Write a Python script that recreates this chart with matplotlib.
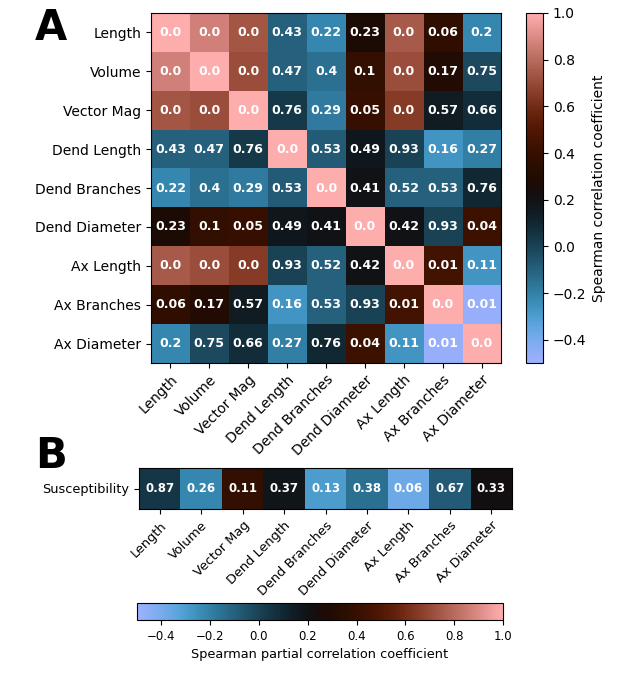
"""Spearman correlation heatmaps of morphology features and susceptibility."""

import matplotlib

matplotlib.use("Agg")
import matplotlib.pyplot as plt
import numpy as np

features = [
    "Length", "Volume", "Vector Mag", "Dend Length", "Dend Branches",
    "Dend Diameter", "Ax Length", "Ax Branches", "Ax Diameter",
]

# correlation coefficients (colour)
corr = np.array([
    [1.00, 0.87, 0.74, -0.10, -0.22, 0.27, 0.75, 0.37, -0.22],
    [0.87, 1.00, 0.71, -0.10, -0.15, 0.38, 0.71, 0.30, -0.02],
    [0.74, 0.71, 1.00, 0.03, -0.18, 0.40, 0.65, 0.15, 0.08],
    [-0.10, -0.10, 0.03, 1.00, -0.08, 0.17, 0.00, -0.27, -0.20],
    [-0.22, -0.15, -0.18, -0.08, 1.00, 0.20, -0.10, -0.10, 0.10],
    [0.27, 0.38, 0.40, 0.17, 0.20, 1.00, 0.20, 0.00, 0.42],
    [0.75, 0.71, 0.65, 0.00, -0.10, 0.20, 1.00, 0.45, -0.27],
    [0.37, 0.30, 0.15, -0.27, -0.10, 0.00, 0.45, 1.00, -0.48],
    [-0.22, -0.02, 0.08, -0.20, 0.10, 0.42, -0.27, -0.48, 1.00],
])

# p-values (annotation)
pvals = [
    ["0.0", "0.0", "0.0", "0.43", "0.22", "0.23", "0.0", "0.06", "0.2"],
    ["0.0", "0.0", "0.0", "0.47", "0.4", "0.1", "0.0", "0.17", "0.75"],
    ["0.0", "0.0", "0.0", "0.76", "0.29", "0.05", "0.0", "0.57", "0.66"],
    ["0.43", "0.47", "0.76", "0.0", "0.53", "0.49", "0.93", "0.16", "0.27"],
    ["0.22", "0.4", "0.29", "0.53", "0.0", "0.41", "0.52", "0.53", "0.76"],
    ["0.23", "0.1", "0.05", "0.49", "0.41", "0.0", "0.42", "0.93", "0.04"],
    ["0.0", "0.0", "0.0", "0.93", "0.52", "0.42", "0.0", "0.01", "0.11"],
    ["0.06", "0.17", "0.57", "0.16", "0.53", "0.93", "0.01", "0.0", "0.01"],
    ["0.2", "0.75", "0.66", "0.27", "0.76", "0.04", "0.11", "0.01", "0.0"],
]

susc_corr = np.array([[0.04, -0.22, 0.38, 0.18, -0.30, -0.15, -0.38, -0.08, 0.22]])
susc_pvals = ["0.87", "0.26", "0.11", "0.37", "0.13", "0.38", "0.06", "0.67", "0.33"]

W, H = 618, 684
cmap = plt.get_cmap("berlin")
vmin, vmax = -0.5, 1.0


def box(x0, y0, x1, y1):
    """Pixel box (top-left origin) to figure fraction rect."""
    return [x0 / W, 1 - y1 / H, (x1 - x0) / W, (y1 - y0) / H]


fig = plt.figure(figsize=(W / 100, H / 100), dpi=100)

# panel A
ax_a = fig.add_axes(box(151, 13, 501, 363))
im_a = ax_a.imshow(corr, cmap=cmap, vmin=vmin, vmax=vmax, aspect="auto")
for i in range(len(features)):
    for j in range(len(features)):
        ax_a.text(j, i, pvals[i][j], ha="center", va="center",
                  color="white", fontsize=9, fontweight="bold")
ax_a.set_xticks(range(len(features)))
ax_a.set_yticks(range(len(features)))
ax_a.set_xticklabels(features, rotation=45, ha="right", rotation_mode="anchor", fontsize=10)
ax_a.set_yticklabels(features, fontsize=10)

cax_a = fig.add_axes(box(526, 13, 543, 363))
cb_a = fig.colorbar(im_a, cax=cax_a)
cb_a.ax.tick_params(labelsize=10)
cb_a.set_label("Spearman correlation coefficient", fontsize=10)

# panel B
ax_b = fig.add_axes(box(139, 468, 512, 509))
im_b = ax_b.imshow(susc_corr, cmap=cmap, vmin=vmin, vmax=vmax, aspect="auto")
for j, p in enumerate(susc_pvals):
    ax_b.text(j, 0, p, ha="center", va="center",
              color="white", fontsize=8.5, fontweight="bold")
ax_b.set_xticks(range(len(features)))
ax_b.set_yticks([0])
ax_b.set_xticklabels(features, rotation=45, ha="right", rotation_mode="anchor", fontsize=9.3)
ax_b.set_yticklabels(["Susceptibility"], fontsize=9.3)

cax_b = fig.add_axes(box(137, 603, 503, 620))
cb_b = fig.colorbar(im_b, cax=cax_b, orientation="horizontal")
cb_b.ax.tick_params(labelsize=8.5)
cb_b.set_label("Spearman partial correlation coefficient", fontsize=9.3)

fig.text(35 / W, 1 - 28 / H, "A", fontsize=30, fontweight="bold", va="center")
fig.text(35 / W, 1 - 456 / H, "B", fontsize=30, fontweight="bold", va="center")

fig.savefig("out.png", dpi=100)
